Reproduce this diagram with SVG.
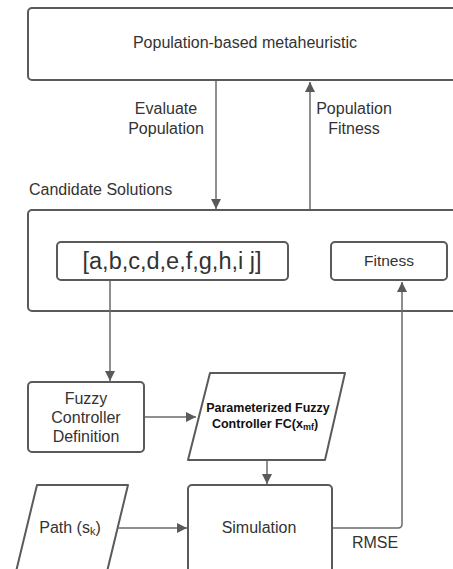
<svg xmlns="http://www.w3.org/2000/svg" width="453" height="569" viewBox="0 0 453 569">
<style>
.box{fill:#fff;stroke:#5a5a5a;stroke-width:2;stroke-linejoin:round}
.ln{fill:none;stroke:#6a6a6a;stroke-width:1.5}
text{font-family:"Liberation Sans",Arial,sans-serif;fill:#333;font-size:16px}
.c{text-anchor:middle}
</style>
<defs>
<marker id="ah" viewBox="0 0 10 10" refX="10" refY="5" markerWidth="10" markerHeight="10" markerUnits="userSpaceOnUse" orient="auto">
<path d="M0,0 L10,5 L0,10 z" fill="#5a5a5a"/>
</marker>
</defs>
<rect width="453" height="569" fill="#fff"/>
<g id="metaheuristic">
<rect class="box" x="28" y="8" width="440" height="72" rx="4"/>
<text class="c" x="245" y="48">Population-based metaheuristic</text>
</g>
<g id="label-evaluate">
<text class="c" x="166" y="114">Evaluate</text>
<text class="c" x="166" y="134">Population</text>
</g>
<g id="label-popfitness">
<text class="c" x="354" y="114">Population</text>
<text class="c" x="354" y="134">Fitness</text>
</g>
<g id="candidates">
<text x="29" y="195">Candidate Solutions</text>
<rect class="box" x="28" y="210" width="440" height="101" rx="4"/>
</g>
<g id="vector">
<rect class="box" x="57" y="242" width="231" height="38" rx="4"/>
<text class="c" x="172" y="269" style="font-size:23.5px">[a,b,c,d,e,f,g,h,i j]</text>
</g>
<g id="fitness">
<rect class="box" x="331" y="242" width="116" height="38" rx="4"/>
<text class="c" x="389" y="266" style="font-size:15.5px">Fitness</text>
</g>
<g id="fuzzy-def">
<rect class="box" x="28" y="382" width="116" height="70" rx="4"/>
<text class="c" x="86" y="404">Fuzzy</text>
<text class="c" x="86" y="423">Controller</text>
<text class="c" x="86" y="442">Definition</text>
</g>
<g id="param-fc">
<path class="box" d="M210,373 H345 L325,460 H188 Z"/>
<text class="c" x="268" y="412" style="font-size:12.5px;font-weight:bold;fill:#111">Parameterized Fuzzy</text>
<text class="c" x="265" y="428" style="font-size:12.5px;font-weight:bold;fill:#111">Controller FC(x<tspan style="font-size:9px" dy="2">mf</tspan><tspan dy="-2">)</tspan></text>
</g>
<g id="simulation">
<rect class="box" x="188" y="485" width="144" height="100" rx="4"/>
<text class="c" x="259" y="533">Simulation</text>
</g>
<g id="path">
<path class="box" d="M37,485 H128 L105,580 H14 Z"/>
<text class="c" x="70" y="533">Path (s<tspan style="font-size:11px" dy="2">k</tspan><tspan dy="-2">)</tspan></text>
</g>
<g id="label-rmse">
<text class="c" x="375" y="548">RMSE</text>
</g>
<g id="connectors">
<line class="ln" x1="216" y1="81" x2="216" y2="209" marker-end="url(#ah)"/>
<line class="ln" x1="310" y1="209" x2="310" y2="82" marker-end="url(#ah)"/>
<line class="ln" x1="110" y1="281" x2="110" y2="381" marker-end="url(#ah)"/>
<line class="ln" x1="145" y1="417" x2="196" y2="417" marker-end="url(#ah)"/>
<line class="ln" x1="267" y1="461" x2="267" y2="484" marker-end="url(#ah)"/>
<line class="ln" x1="118" y1="528" x2="187" y2="528" marker-end="url(#ah)"/>
<path class="ln" d="M333,528 H398 Q402,528 402,524 V282" marker-end="url(#ah)"/>
</g>
</svg>
